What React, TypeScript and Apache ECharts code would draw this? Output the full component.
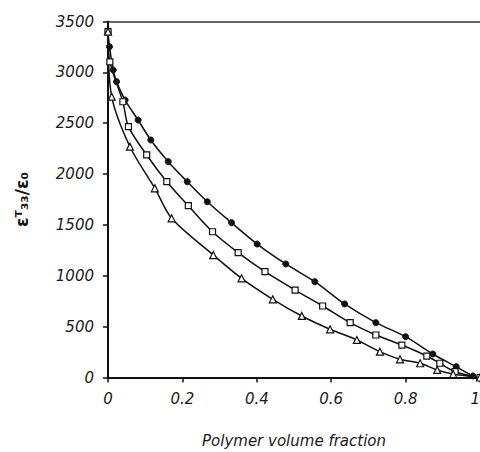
import React, { useEffect, useRef } from "react";
import * as echarts from "echarts";

// Polymer volume fraction (x) and relative permittivity (y) for three series
const circleX = [0, 0.004, 0.014, 0.023, 0.046, 0.081, 0.115, 0.162, 0.213, 0.267, 0.332, 0.401, 0.478, 0.556, 0.636, 0.72, 0.8, 0.873, 0.936, 0.981, 1];
const circleY = [3400, 3252, 3023, 2908, 2728, 2531, 2335, 2122, 1925, 1728, 1522, 1312, 1116, 942, 723, 539, 401, 231, 106, 15, 0];

const squareX = [0, 0.005, 0.04, 0.055, 0.104, 0.158, 0.216, 0.281, 0.35, 0.422, 0.503, 0.577, 0.651, 0.72, 0.79, 0.857, 0.892, 0.933, 1];
const squareY = [3400, 3104, 2711, 2466, 2188, 1925, 1689, 1433, 1227, 1040, 860, 703, 539, 418, 319, 211, 140, 57, 0];

const triangleX = [0, 0.01, 0.059, 0.126, 0.171, 0.283, 0.359, 0.443, 0.521, 0.597, 0.669, 0.731, 0.785, 0.839, 0.885, 0.928, 1];
const triangleY = [3400, 2761, 2269, 1860, 1565, 1204, 975, 769, 605, 474, 369, 254, 179, 140, 74, 34, 0];

const xTicks = { min: 0, max: 1, interval: 0.2 };
const yTicks = { min: 0, max: 3500, interval: 500 };

const xName = "Polymer volume fraction";
const yName = "εᵀ₃₃/ε₀";

const zip = (xs: number[], ys: number[]) => xs.map((x, i) => [x, ys[i]]);

export default function App() {
  const ref = useRef<HTMLDivElement>(null);
  useEffect(() => {
    document.body.style.margin = "0";
    if (!ref.current) return;
    const chart = echarts.init(ref.current, null, { renderer: "svg" });
    const labelFont = {
      fontFamily: "DejaVu Sans",
      fontStyle: "italic" as const,
      fontSize: 15,
      color: "#1a1a1a",
    };
    const lineCommon = {
      type: "line" as const,
      smooth: 0.3,
      lineStyle: { color: "#111", width: 1.5 },
      symbolSize: 6,
    };
    chart.setOption({
      animation: false,
      backgroundColor: "#fff",
      grid: {
        left: 108,
        right: 0,
        top: 21.5,
        bottom: 74.5,
        containLabel: false,
        outerBoundsMode: "none",
      },
      xAxis: [
        {
          type: "value",
          min: xTicks.min,
          max: xTicks.max,
          interval: xTicks.interval,
          name: xName,
          nameLocation: "middle",
          nameGap: 56,
          nameTextStyle: { ...labelFont, fontSize: 15 },
          axisLine: { show: true, lineStyle: { color: "#111", width: 2 } },
          axisTick: { show: true, length: 5, lineStyle: { color: "#111", width: 1.5 } },
          axisLabel: {
            ...labelFont,
            margin: 14,
            alignMaxLabel: "right",
            formatter: (v: number) => String(v),
          },
          splitLine: { show: false },
        },
        {
          type: "value",
          position: "top",
          min: xTicks.min,
          max: xTicks.max,
          axisLine: { show: true, lineStyle: { color: "#333", width: 1.5 } },
          axisTick: { show: false },
          axisLabel: { show: false },
          splitLine: { show: false },
        },
      ],
      yAxis: {
        type: "value",
        min: yTicks.min,
        max: yTicks.max,
        interval: yTicks.interval,
        name: yName,
        nameLocation: "middle",
        nameGap: 78,
        nameRotate: 90,
        nameTextStyle: {
          fontFamily: "DejaVu Sans",
          fontWeight: "bold",
          fontSize: 17,
          color: "#111",
        },
        axisLine: { show: true, lineStyle: { color: "#111", width: 2 } },
        axisTick: { show: true, length: 5, lineStyle: { color: "#111", width: 1.5 } },
        axisLabel: { ...labelFont, margin: 14, formatter: (v: number) => String(v) },
        splitLine: { show: false },
      },
      series: [
        {
          ...lineCommon,
          name: "filled",
          symbol: "circle",
          itemStyle: { color: "#111", borderColor: "#111" },
          data: zip(circleX, circleY),
        },
        {
          ...lineCommon,
          name: "square",
          symbol: "rect",
          itemStyle: { color: "#fff", borderColor: "#111", borderWidth: 1.2 },
          data: zip(squareX, squareY),
        },
        {
          ...lineCommon,
          name: "triangle",
          symbol: "triangle",
          symbolSize: 7,
          itemStyle: { color: "#fff", borderColor: "#111", borderWidth: 1.2 },
          data: zip(triangleX, triangleY),
        },
      ],
    });
    return () => chart.dispose();
  }, []);
  return <div ref={ref} style={{ width: 480, height: 452 }} />;
}
